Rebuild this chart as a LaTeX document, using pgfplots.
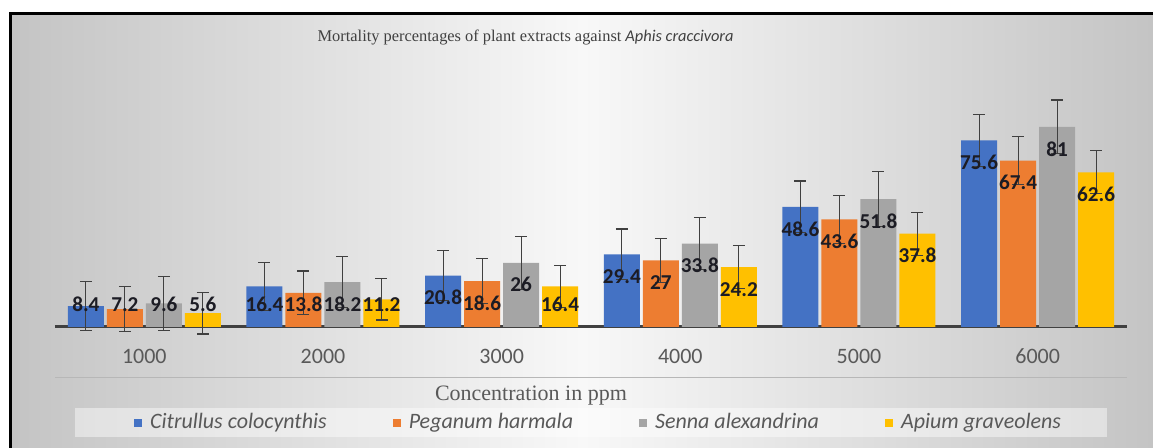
\documentclass[border=0pt]{standalone}
\usepackage{fontspec}
\setmainfont{Liberation Serif}
\newfontfamily\calib{Carlito}
\usepackage{pgfplots}
\pgfplotsset{compat=1.18}
\usepackage{pgfplotstable}

\definecolor{cblue}{HTML}{4472C4}
\definecolor{corange}{HTML}{ED7D31}
\definecolor{cgray}{HTML}{A5A5A5}
\definecolor{cyellow}{HTML}{FFC000}
\definecolor{cerr}{HTML}{404040}
\definecolor{cgrid}{HTML}{D4D4D4}
\definecolor{ctext}{HTML}{595959}
\definecolor{cedge}{HTML}{C4C4C4}
\definecolor{ccenter}{HTML}{F8F8F8}
\definecolor{clab}{HTML}{1C1C24}

\pgfplotsset{sqleg/.style={legend image code/.code={\fill[##1] (0pt,-2pt) rectangle (4pt,2pt); \path (6pt,0pt);}}}

\pgfplotstableread{
x blue eblue orange eorange gray egray yellow eyellow
1 8.4 9.9 7.2 9.1 9.6 10.9 5.6 8.4
2 16.4 9.6 13.8 8.9 18.2 10.3 11.2 8.4
3 20.8 10.1 18.6 9.2 26 10.7 16.4 8.4
4 29.4 10.3 27 8.9 33.8 10.4 24.2 8.7
5 48.6 10.5 43.6 9.7 51.8 11.2 37.8 8.7
6 75.6 10.5 67.4 9.6 81 10.9 62.6 8.7
}\data

\begin{document}
\begin{tikzpicture}
\useasboundingbox (0pt,0pt) rectangle (576.5pt,224pt);
\fill[white] (0pt,0pt) rectangle (576.5pt,224pt);
\shade[left color=cedge, right color=cedge, middle color=ccenter] (6pt,0pt) rectangle (576.5pt,216.5pt);
\draw[line width=1.5pt] (5.25pt,0pt) -- (5.25pt,217.25pt) -- (576.5pt,217.25pt);
\fill[white, opacity=0.45] (37.5pt,5.5pt) rectangle (553.5pt,20pt);
\draw[cgray!80, line width=0.6pt] (27.5pt,35.15pt) -- (563.5pt,35.15pt);
\begin{axis}[
  at={(27.5pt,60.5pt)}, anchor=south west,
  scale only axis, width=536pt, height=123.5pt,
  xmin=0.5, xmax=6.5, ymin=0, ymax=100,
  clip=false,
  ybar=1.5pt, bar width=18pt,
  axis x line=bottom, axis y line=none,
  x axis line style={-, draw=cerr, line width=1.5pt},
  xtick={1,2,3,4,5,6},
  xticklabels={1000,2000,3000,4000,5000,6000},
  xticklabel style={font=\calib\fontsize{11}{13}\selectfont, text=ctext, anchor=center, yshift=-14.5pt},
  ytick={20,40,60,80,100}, yticklabels={},
  ymajorgrids, major grid style={cgrid, line width=0.5pt},
  major tick length=0pt,
  title={Mortality percentages of plant extracts against {\calib\itshape Aphis craccivora}},
  title style={at={(axis description cs:0.439,1)}, anchor=center, yshift=15pt, font=\fontsize{8.2}{10}\selectfont, text=cerr},
  xlabel={Concentration in ppm},
  xlabel style={at={(axis description cs:0.444,0)}, anchor=center, yshift=-34.5pt, font=\fontsize{11}{13}\selectfont, text=ctext},
  visualization depends on={rawy \as \ry},
  nodes near coords,
  nodes near coords style={/pgf/number format/assume math mode=true, font=\calib\bfseries\fontsize{10.6}{12}\selectfont, text=clab, anchor=center, inner sep=0pt, yshift={(max(\ry-8.9,9.1)-\ry)*1.235}},
  error bars/y dir=both, error bars/y explicit,
  error bars/error bar style={draw=cerr, line width=0.6pt},
  error bars/error mark options={rotate=90, mark size=3pt, draw=cerr, line width=0.6pt},
  legend columns=4,
  legend style={at={(0.508,-0.387)}, anchor=center, draw=none, fill=none,
    font=\calib\itshape\fontsize{11}{13}\selectfont, text=ctext,
    /tikz/every even column/.append style={column sep=31pt}},
]
\addplot[fill=cblue, draw=none, sqleg] table[x=x, y=blue, y error=eblue] {\data};
\addplot[fill=corange, draw=none, sqleg] table[x=x, y=orange, y error=eorange] {\data};
\addplot[fill=cgray, draw=none, sqleg] table[x=x, y=gray, y error=egray] {\data};
\addplot[fill=cyellow, draw=none, sqleg] table[x=x, y=yellow, y error=eyellow] {\data};
\legend{Citrullus colocynthis, Peganum harmala, Senna alexandrina, Apium graveolens}
\end{axis}
\end{tikzpicture}
\end{document}
